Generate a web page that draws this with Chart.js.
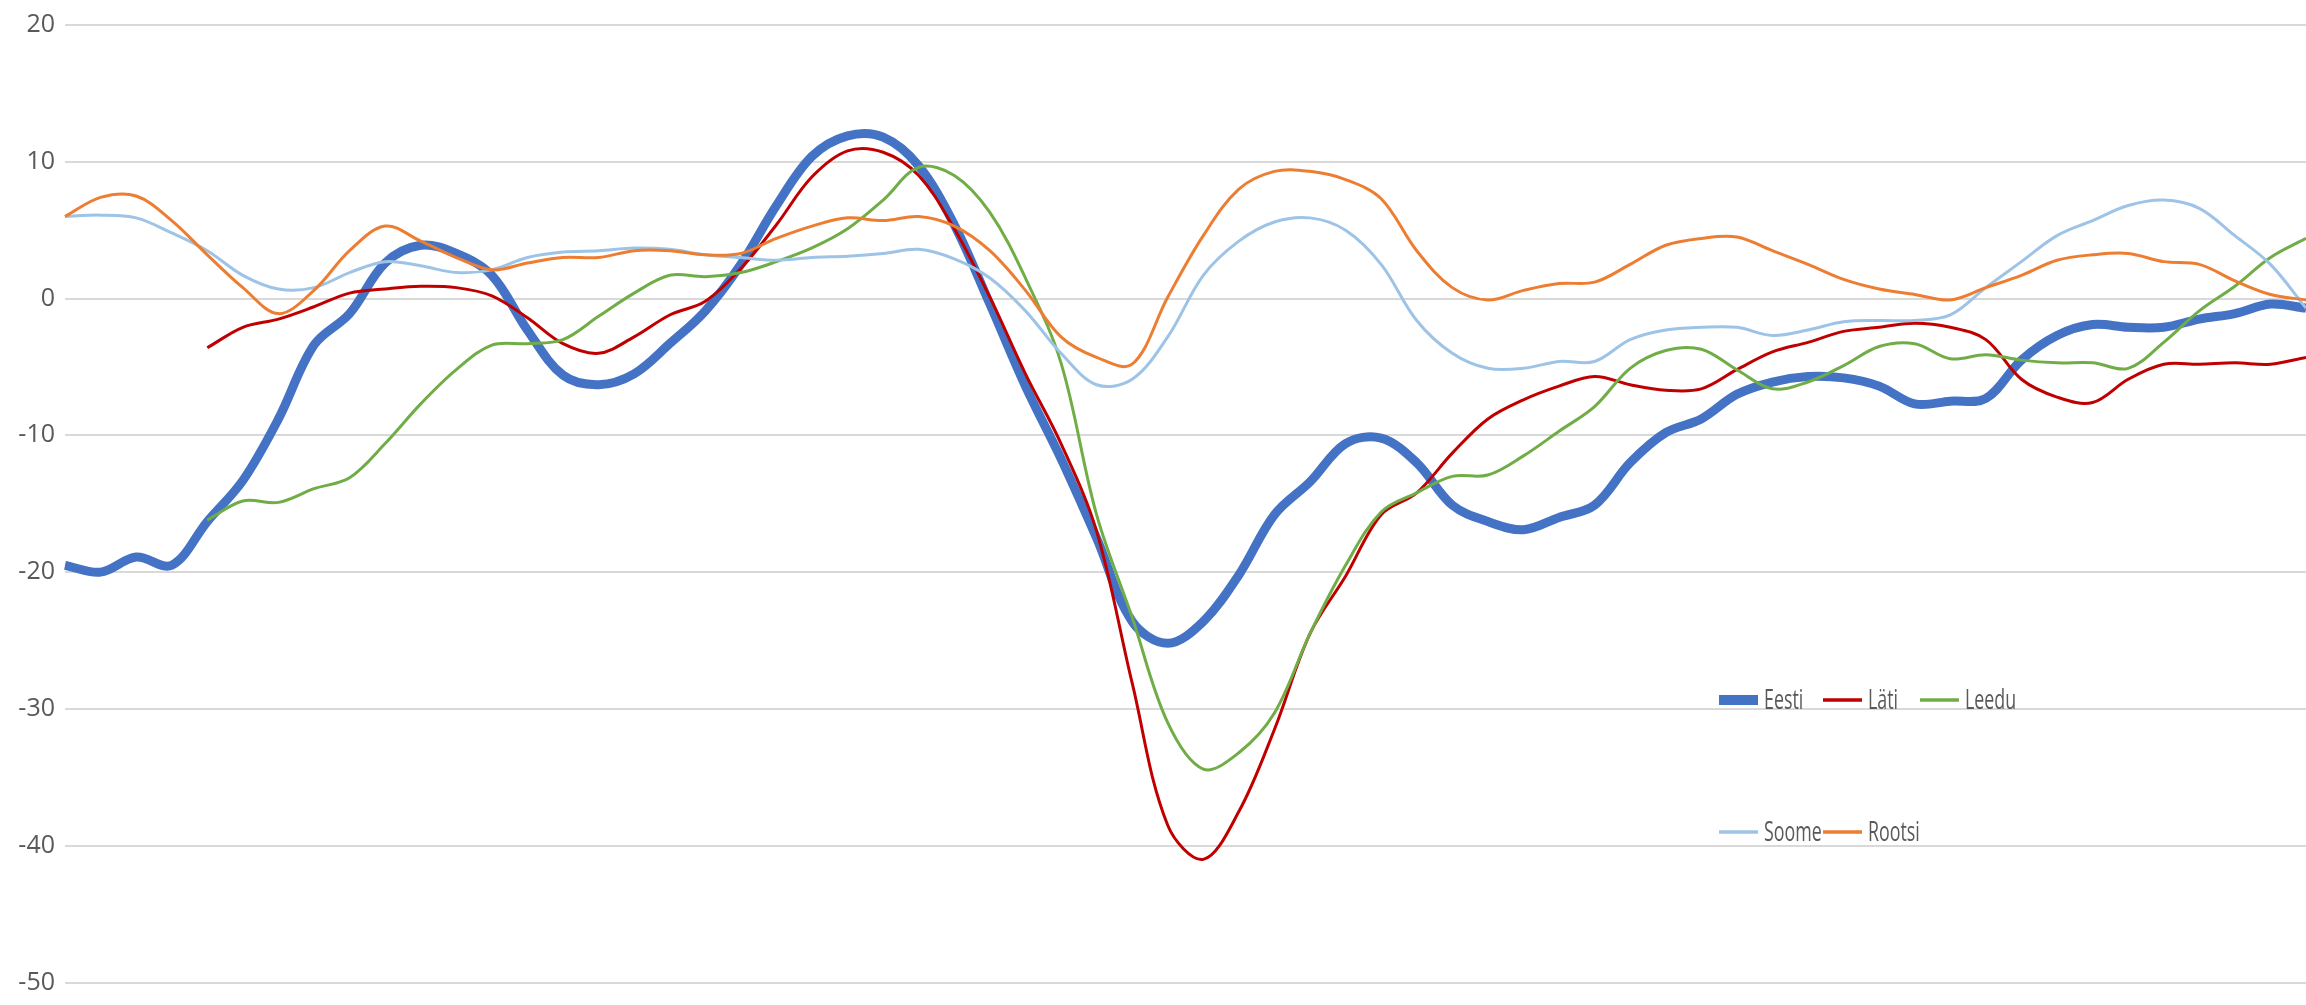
<!DOCTYPE html>
<html><head><meta charset="utf-8">
<script src="https://cdn.jsdelivr.net/npm/chart.js@4.4.1/dist/chart.umd.min.js"></script>
<style>html,body{margin:0;padding:0;background:#fff;overflow:hidden}#wrap{position:relative;width:2306px;height:1005px}</style>
</head><body><div id="wrap"><canvas id="c"></canvas></div>
<script>
// Categories (periods; the reference shows no category labels)
const periods = Array.from({length: 64}, (_, i) => String(i + 1));

// Series values
const eesti = [-19.5,-20.0,-18.9,-19.5,-16.3,-13.3,-8.8,-3.4,-1.1,2.6,3.9,3.3,1.7,-2.3,-5.6,-6.3,-5.5,-3.3,-0.9,2.5,6.8,10.4,11.9,11.8,9.7,5.4,-0.4,-6.4,-11.7,-17.5,-23.6,-25.2,-23.6,-20.2,-15.8,-13.4,-10.6,-10.2,-12.0,-15.1,-16.3,-16.9,-16.0,-15.1,-12.0,-9.8,-8.8,-7.0,-6.1,-5.7,-5.8,-6.4,-7.7,-7.5,-7.3,-4.5,-2.7,-1.9,-2.1,-2.1,-1.5,-1.1,-0.4,-0.7];
const lati = [null,null,null,null,-3.6,-2.1,-1.5,-0.6,0.4,0.7,0.9,0.8,0.2,-1.4,-3.3,-4.0,-2.8,-1.2,-0.2,2.2,5.4,8.9,10.8,10.7,9.0,5.1,0.1,-5.5,-10.6,-17.0,-28.1,-38.5,-41.0,-37.5,-31.5,-24.5,-20.3,-15.8,-14.2,-11.3,-8.8,-7.4,-6.4,-5.7,-6.3,-6.7,-6.6,-5.2,-3.9,-3.2,-2.4,-2.1,-1.8,-2.1,-3.0,-5.9,-7.2,-7.6,-5.9,-4.8,-4.8,-4.7,-4.8,-4.3];
const leedu = [null,null,null,null,-16.2,-14.8,-14.9,-13.9,-13.1,-10.6,-7.7,-5.2,-3.4,-3.3,-3.0,-1.3,0.4,1.7,1.6,1.9,2.7,3.7,5.1,7.2,9.6,9.0,6.3,1.5,-4.7,-15.8,-23.3,-31.0,-34.4,-33.2,-30.3,-24.5,-19.5,-15.6,-14.2,-13.0,-12.9,-11.5,-9.7,-7.9,-5.1,-3.8,-3.7,-5.2,-6.6,-6.1,-4.9,-3.5,-3.3,-4.4,-4.1,-4.5,-4.7,-4.7,-5.1,-3.2,-0.9,0.9,3.0,4.4];
const soome = [6.0,6.1,5.9,4.8,3.5,1.7,0.7,0.8,1.9,2.7,2.4,1.9,2.1,3.0,3.4,3.5,3.7,3.6,3.2,3.0,2.8,3.0,3.1,3.3,3.6,2.9,1.5,-0.9,-4.0,-6.3,-5.9,-2.8,1.7,4.2,5.6,5.9,5.0,2.5,-1.6,-4.0,-5.1,-5.1,-4.6,-4.6,-3.0,-2.3,-2.1,-2.1,-2.7,-2.3,-1.7,-1.6,-1.6,-1.2,0.8,2.7,4.6,5.7,6.8,7.2,6.6,4.6,2.5,-0.7];
const rootsi = [6.0,7.4,7.5,5.7,3.2,0.8,-1.1,0.6,3.5,5.3,4.2,3.0,2.1,2.6,3.0,3.0,3.5,3.5,3.2,3.3,4.4,5.3,5.9,5.7,6.0,5.3,3.5,0.6,-2.8,-4.3,-4.8,0.1,4.6,8.0,9.3,9.3,8.7,7.3,3.5,0.8,-0.1,0.6,1.1,1.2,2.5,3.9,4.4,4.5,3.5,2.5,1.4,0.7,0.3,-0.1,0.8,1.7,2.8,3.2,3.3,2.7,2.5,1.3,0.3,-0.1];

const seriesNames = ['Eesti', 'Läti', 'Leedu', 'Soome', 'Rootsi'];
const seriesValues = [eesti, lati, leedu, soome, rootsi];
const seriesColors = ['#4472C4', '#C00000', '#70AD47', '#9DC3E6', '#ED7D31'];

// Y axis ticks
const yMin = -50, yMax = 20, yStep = 10;

const legendPlugin = {
  id: 'gridLegend',
  afterDatasetsDraw(chart) {
    const ctx = chart.ctx;
    const slots = [{x:1719,y:700},{x:1823,y:700},{x:1920,y:700},{x:1719,y:832},{x:1823,y:832}];
    chart.data.datasets.forEach((ds, i) => {
      const s = slots[i];
      ctx.save();
      ctx.strokeStyle = ds.borderColor;
      ctx.lineWidth = i === 0 ? 10 : 3.5;
      ctx.lineCap = 'butt';
      ctx.beginPath(); ctx.moveTo(s.x, s.y); ctx.lineTo(s.x + 39, s.y); ctx.stroke();
      ctx.fillStyle = '#595959';
      ctx.font = '27px "Open Sans"';
      ctx.textBaseline = 'alphabetic';
      ctx.translate(s.x + 45, s.y + 9);
      ctx.scale(0.66, 1);
      ctx.fillText(ds.label, 0, 0);
      ctx.restore();
    });
  }
};

const widths = [9, 3, 3, 3, 3];
new Chart(document.getElementById('c'), {
  type: 'line',
  data: {
    labels: periods,
    datasets: seriesNames.map((name, i) => ({
      label: name,
      data: seriesValues[i],
      borderColor: seriesColors[i],
      backgroundColor: seriesColors[i],
      borderWidth: widths[i],
      pointRadius: 0,
      tension: 0.35,
      fill: false,
      order: 5 - i,
      borderCapStyle: 'butt',
      borderJoinStyle: 'round'
    }))
  },
  options: {
    responsive: true,
    maintainAspectRatio: false,
    devicePixelRatio: 1,
    animation: false,
    events: [],
    layout: { padding: { top: 25, bottom: 13, left: 0, right: 0 } },
    plugins: { legend: { display: false }, tooltip: { enabled: false } },
    scales: {
      x: { display: false, offset: false },
      y: {
        min: yMin, max: yMax,
        border: { display: false },
        grid: { color: '#d9d9d9', lineWidth: 2, drawTicks: false },
        ticks: { stepSize: yStep, padding: 10, color: '#595959', font: { family: 'Open Sans', size: 25, lineHeight: 1 } },
        afterFit(scale) { scale.width = 65; }
      }
    }
  },
  plugins: [legendPlugin]
});
</script></body></html>
